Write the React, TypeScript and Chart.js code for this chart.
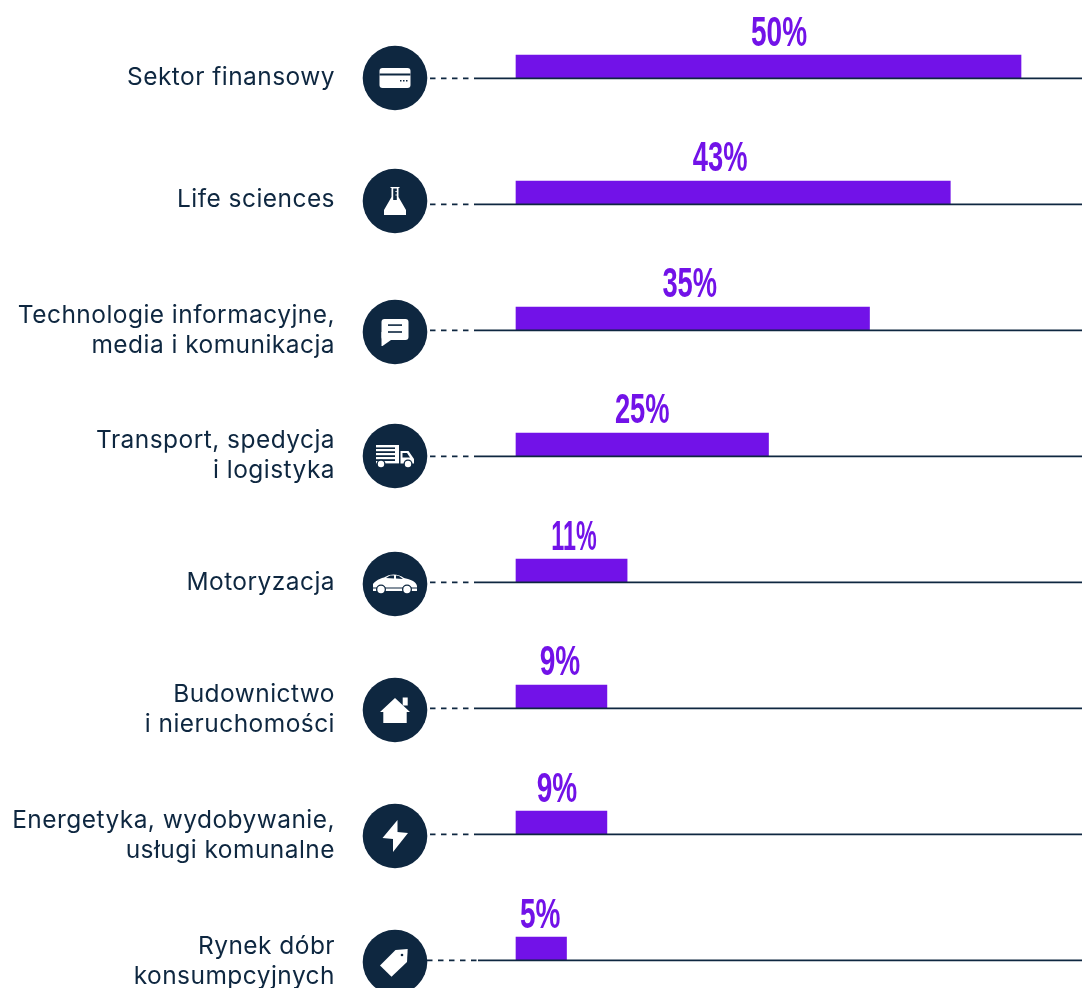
import React, { useEffect, useRef } from "react";
import { Chart, registerables } from "chart.js";

Chart.register(...registerables);

const categories: string[][] = [
  ["Sektor finansowy"],
  ["Life sciences"],
  ["Technologie informacyjne,", "media i komunikacja"],
  ["Transport, spedycja", "i logistyka"],
  ["Motoryzacja"],
  ["Budownictwo", "i nieruchomości"],
  ["Energetyka, wydobywanie,", "usługi komunalne"],
  ["Rynek dóbr", "konsumpcyjnych"],
];
const values = [50, 43, 35, 25, 11, 9, 9, 5];
const valueLabels = ["50%", "43%", "35%", "25%", "11%", "9%", "9%", "5%"];
const icons = ["card", "flask", "chat", "truck", "car", "house", "bolt", "tag"];

const NAVY = "#0e2740";
const PURPLE = "#7212e8";
const labelShift = [10.5, -13, -3, 0, 2.5, -1.5, -4.5, -1];
const labelRise = [32.5, 33, 33, 33, 32.5, 33, 32, 32];
const labelSqueeze = [0.667, 0.65, 0.65, 0.65, 0.555, 0.667, 0.667, 0.667];
const iconShift = [0, -3, 2, 0, 2, 2, 2, 2];
const textShift = [0, -4, 1, -0.5, 1, 2, 2, 2];
const dashStart = [430, 430, 430, 430, 430, 430, 430, 427];

function drawIcon(ctx: CanvasRenderingContext2D, name: string, cx: number, cy: number) {
  ctx.save();
  ctx.translate(cx, cy);
  ctx.fillStyle = "#fff";
  ctx.strokeStyle = "#fff";
  const poly = (pts: number[][]) => {
    ctx.beginPath();
    pts.forEach(([x, y], i) => (i ? ctx.lineTo(x, y) : ctx.moveTo(x, y)));
    ctx.closePath();
    ctx.fill();
  };
  const rr = (x: number, y: number, w: number, h: number, r: number) => {
    ctx.beginPath();
    ctx.roundRect(x, y, w, h, r);
    ctx.fill();
  };
  const navyRect = (x: number, y: number, w: number, h: number) => {
    ctx.fillStyle = NAVY;
    ctx.fillRect(x, y, w, h);
    ctx.fillStyle = "#fff";
  };
  const wheel = (x: number, y: number, r: number) => {
    ctx.fillStyle = NAVY;
    ctx.beginPath();
    ctx.arc(x, y, r + 1.3, 0, Math.PI * 2);
    ctx.fill();
    ctx.fillStyle = "#fff";
    ctx.beginPath();
    ctx.arc(x, y, r, 0, Math.PI * 2);
    ctx.fill();
  };
  if (name === "card") {
    rr(-15.5, -10, 31, 20, 3);
    navyRect(-15.5, -4.5, 31, 2);
    navyRect(5, 2, 1.5, 1.5);
    navyRect(8, 2, 1.5, 1.5);
    navyRect(11, 2, 1.5, 1.5);
  } else if (name === "flask") {
    poly([[-4.5, -14], [4.5, -14], [4.5, -13], [3.5, -13], [3.5, -4], [11, 9], [11, 14], [-11, 14], [-11, 9], [-3.5, -4], [-3.5, -13], [-4.5, -13]]);
    ctx.fillStyle = NAVY;
    poly([[-1.8, -12.5], [1.8, -12.5], [1.8, -1], [-1.8, -1]]);
    ctx.fillStyle = "#fff";
    ctx.fillRect(0.5, -10, 1.3, 1);
    ctx.fillRect(0.5, -6.5, 1.3, 1);
  } else if (name === "chat") {
    ctx.beginPath();
    ctx.roundRect(-13.5, -13, 27, 21, 3);
    ctx.fill();
    poly([[-13.5, 0], [-13.5, 14], [-12.5, 14], [-4, 8], [-4, 0]]);
    navyRect(-7, -7.7, 14, 1.6);
    navyRect(-7, -0.8, 14, 1.6);
  } else if (name === "truck") {
    ctx.fillRect(-19, -11, 23, 2.4);
    ctx.fillRect(-19, -7, 19, 2.2);
    ctx.fillRect(-19, -3, 19, 2.2);
    ctx.fillRect(-19, 1, 19, 2.2);
    ctx.fillRect(-19, 5, 23, 2.4);
    ctx.fillRect(0, -11, 4, 18);
    poly([[5.5, -5], [13.5, -5], [19, 3], [19, 7.4], [5.5, 7.4]]);
    ctx.fillStyle = NAVY;
    poly([[7.5, -3], [12, -3], [15, 1.5], [7.5, 1.5]]);
    ctx.fillStyle = "#fff";
    wheel(-14, 8, 3.2);
    wheel(13, 8, 3.2);
  } else if (name === "car") {
    ctx.beginPath();
    ctx.moveTo(-22, 0);
    ctx.bezierCurveTo(-18, -5, -12, -6, -10, -7);
    ctx.bezierCurveTo(-4, -11, 4, -10, 9, -6);
    ctx.bezierCurveTo(14, -5, 21, -3, 22, 2);
    ctx.lineTo(22, 7);
    ctx.lineTo(-22, 7);
    ctx.closePath();
    ctx.fill();
    ctx.fillStyle = NAVY;
    poly([[-9, -6], [-5, -8.5], [-1, -8.5], [-1, -5.5]]);
    poly([[1, -8.5], [4, -8], [8, -5], [1, -5.5]]);
    ctx.fillRect(-22, 3.5, 44, 1);
    ctx.fillStyle = "#fff";
    wheel(-14, 5.5, 3.7);
    wheel(12, 5.5, 3.7);
  } else if (name === "house") {
    ctx.fillRect(7.7, -12.5, 5, 8);
    poly([[-15, 2], [0, -12], [15, 2], [11.7, 2], [11.7, 13], [-11.7, 13], [-11.7, 2]]);
  } else if (name === "bolt") {
    poly([[2.5, -16], [2.5, -4], [13, -3], [-2, 16], [-2, 3], [-12.5, 2]]);
  } else if (name === "tag") {
    poly([[12.7, -13], [12, 0], [-3.5, 14.7], [-15, 3.5], [0.5, -12]]);
    ctx.fillStyle = NAVY;
    ctx.beginPath();
    ctx.arc(7, -7, 1.3, 0, Math.PI * 2);
    ctx.fill();
  }
  ctx.restore();
}

const decorations = {
  id: "decorations",
  afterDatasetsDraw(chart: any) {
    const { ctx, scales } = chart;
    const xs = scales.x;
    const ys = scales.y;
    const barH = 23;
    categories.forEach((lines, i) => {
      const base = Math.round(ys.getPixelForValue(i) + barH / 2);
      ctx.save();
      ctx.strokeStyle = NAVY;
      ctx.lineWidth = 1.6;
      ctx.beginPath();
      ctx.moveTo(478, base + 0.4);
      ctx.lineTo(1082, base + 0.4);
      ctx.stroke();
      ctx.setLineDash([5.5, 5.5]);
      ctx.beginPath();
      ctx.moveTo(dashStart[i], base + 0.4);
      ctx.lineTo(478, base + 0.4);
      ctx.stroke();
      ctx.setLineDash([]);
      const cy = base + iconShift[i];
      ctx.fillStyle = NAVY;
      ctx.beginPath();
      ctx.arc(395, cy, 32.3, 0, Math.PI * 2);
      ctx.fill();
      drawIcon(ctx, icons[i], 395, cy);
      ctx.fillStyle = NAVY;
      ctx.font = '400 24.5px "Inter"';
      ctx.letterSpacing = "0.45px";
      ctx.textAlign = "right";
      ctx.textBaseline = "middle";
      const centre = base + textShift[i];
      lines.forEach((l, k) => {
        const y = lines.length === 1 ? centre : centre + (k === 0 ? -15 : 15);
        ctx.fillText(l, 335, y);
      });
      ctx.letterSpacing = "0px";
      ctx.fillStyle = PURPLE;
      ctx.font = '700 42px "Liberation Sans"';
      ctx.textAlign = "center";
      ctx.textBaseline = "alphabetic";
      const lx = (xs.getPixelForValue(0) + xs.getPixelForValue(values[i])) / 2 + labelShift[i];
      ctx.translate(lx, base - labelRise[i]);
      ctx.scale(labelSqueeze[i], 1);
      ctx.fillText(valueLabels[i], 0, 0);
      ctx.restore();
    });
  },
};

export default function App() {
  const ref = useRef<HTMLCanvasElement>(null);
  useEffect(() => {
    const chart = new Chart(ref.current!, {
      type: "bar",
      data: {
        datasets: [
          {
            data: values.map((v, i) => ({ x: v, y: i })),
            backgroundColor: PURPLE,
            barThickness: 23,
            borderWidth: 0,
          },
        ],
      },
      options: {
        indexAxis: "y",
        animation: false,
        responsive: false,
        parsing: false,
        layout: { padding: 0 },
        plugins: { legend: { display: false }, tooltip: { enabled: false } },
        scales: {
          x: { type: "linear", display: false, min: -516 / 10.1, max: 566 / 10.1, offset: false },
          y: { type: "linear", display: false, reverse: true, offset: false, min: -66.5 / 126, max: 921.5 / 126 },
        },
      } as any,
      plugins: [decorations],
    });
    return () => chart.destroy();
  }, []);
  return (
    <canvas
      ref={ref}
      width={1082}
      height={988}
      style={{ position: "fixed", left: 0, top: 0, width: 1082, height: 988, background: "#fff" }}
    />
  );
}
